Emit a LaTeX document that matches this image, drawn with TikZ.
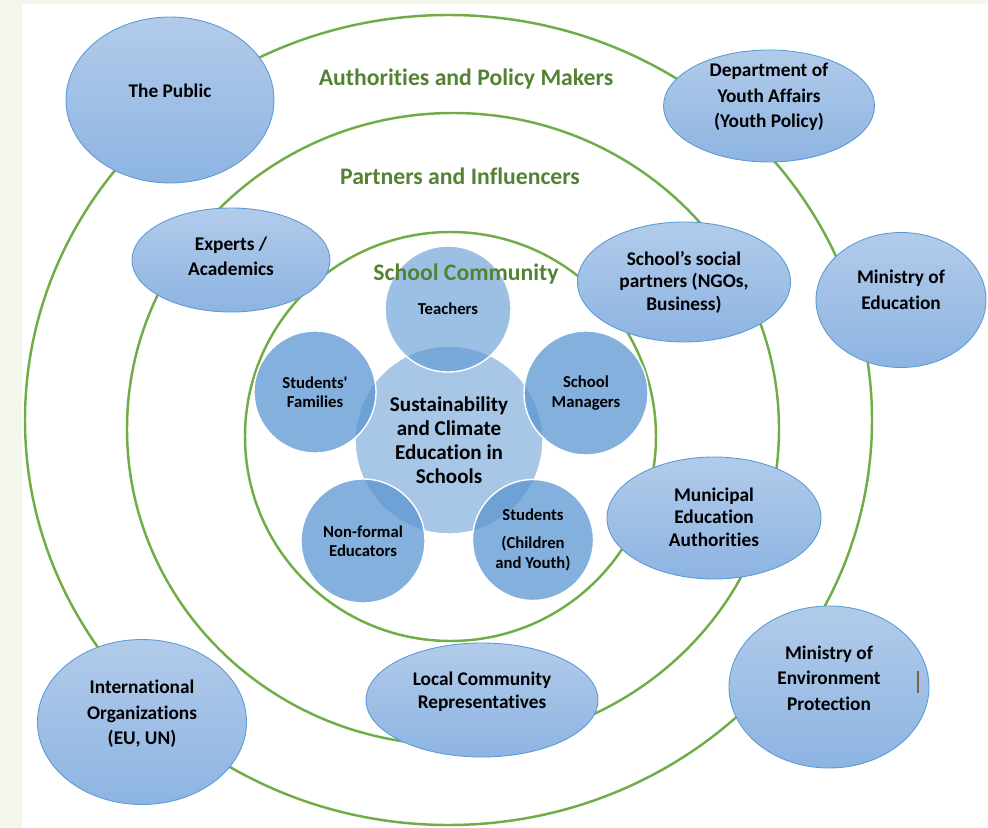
\documentclass[tikz,border=0pt]{standalone}
\usepackage{fontspec}
\setmainfont{Carlito}[Ligatures={TeX,NoCommon}]
\usetikzlibrary{shapes.geometric}

\definecolor{ringgreen}{RGB}{112,173,71}
\definecolor{labelgreen}{RGB}{84,130,53}
\definecolor{orgline}{RGB}{91,155,213}
\definecolor{orgtop}{RGB}{178,203,234}
\definecolor{orgbottom}{RGB}{141,180,226}
\definecolor{hubfill}{RGB}{168,198,229}
\definecolor{groupfill}{RGB}{91,150,210}
\definecolor{pagetint}{RGB}{243,246,234}
\definecolor{caretbrown}{RGB}{120,100,75}

\begin{document}
\begin{tikzpicture}[%
    x=0.02cm, y=-0.02cm,
    ring/.style={draw=ringgreen, line width=1.4pt},
    ringlabel/.style={text=labelgreen, font=\fontsize{13.5}{16}\selectfont\bfseries},
    org/.style 2 args={ellipse, draw=orgline, line width=0.5pt,
      top color=orgtop, bottom color=orgbottom,
      minimum width=#1*0.02cm, minimum height=#2*0.02cm},
    orgtext/.style={align=center, yshift=5pt,
      font=\fontsize{11}{14.5}\selectfont\bfseries},
    orgtight/.style={orgtext, font=\fontsize{11}{12.8}\selectfont\bfseries},
    hub/.style={circle, draw=white, line width=0.8pt, fill=hubfill,
      minimum size=188*0.02cm, align=center,
      font=\fontsize{12}{13.6}\selectfont\bfseries},
    group/.style={circle, draw=white, line width=0.8pt, fill=groupfill,
      fill opacity=0.75, text opacity=1, minimum size=#1*0.02cm,
      align=center, font=\fontsize{9.5}{11}\selectfont\bfseries}
  ]

  % page
  \fill[pagetint] (0,0) rectangle (988,828);
  \fill[white] (22,4) rectangle (988,828);
  \useasboundingbox (0,0) rectangle (988,828);

  % rings
  \draw[ring] (448.5,420) ellipse [x radius=423.5*0.02cm, y radius=405*0.02cm];
  \draw[ring] (453,429) ellipse [x radius=326*0.02cm, y radius=316*0.02cm];
  \draw[ring] (450.5,436.5) ellipse [x radius=205.5*0.02cm, y radius=204.5*0.02cm];

  % outer ring
  \node[org={208}{166}, label={[orgtext]center:The Public}] (public) at (170,100) {};
  \node[org={211}{112}, label={[orgtext]center:{Department of\\Youth Affairs\\(Youth Policy)}}] (youth) at (769,106) {};
  \node[org={170}{135}, label={[orgtext, yshift=0.7pt]center:{Ministry of\\Education}}] (moe) at (901,300) {};
  \node[org={200}{162}, label={[orgtext]center:{Ministry of\\Environment\\Protection}}] (moep) at (829,687) {};
  \node[org={209}{165}, label={[orgtext, yshift=-0.5pt]center:{International\\Organizations\\(EU, UN)}}] (intl) at (142,722) {};

  % middle ring
  \node[org={198}{104}, label={[orgtext, yshift=-3pt]center:{Experts /\\Academics}}] (experts) at (231,260) {};
  \node[org={213}{120}, label={[orgtight, yshift=-5pt]center:{School’s social\\partners (NGOs,\\Business)}}] (social) at (684,282) {};
  \node[org={214}{122}, label={[orgtight, yshift=-4.5pt]center:{Municipal\\Education\\Authorities}}] (muni) at (714,518) {};
  \node[org={232}{114}, label={[orgtight, yshift=-0.3pt]center:{Local Community\\Representatives}}] (local) at (482,700) {};

  \draw[caretbrown, line width=0.9pt] (918,671) -- (918,693);

  % school community
  \node[hub] (hub) at (449,440) {Sustainability\\and Climate\\Education in\\Schools};
  \node[group=126, fill opacity=0.6] (teach) at (448,309) {Teachers};
  \node[group=122] (fam) at (315,392) {Students\textquotesingle\\Families};
  \node[group=124] (mgr) at (586,393) {School\\Managers};
  \node[group=124] (nonf) at (363,541) {Non-formal\\Educators};
  \node[group=121] (stud) at (533,540) {Students\\[5pt](Children\\and Youth)};

  % ring titles
  \node[ringlabel] (authlbl) at (466,79) {Authorities and Policy Makers};
  \node[ringlabel] (partlbl) at (460,176) {Partners and Influencers};
  \node[ringlabel] (schlbl) at (466,274) {School Community};
\end{tikzpicture}
\end{document}
